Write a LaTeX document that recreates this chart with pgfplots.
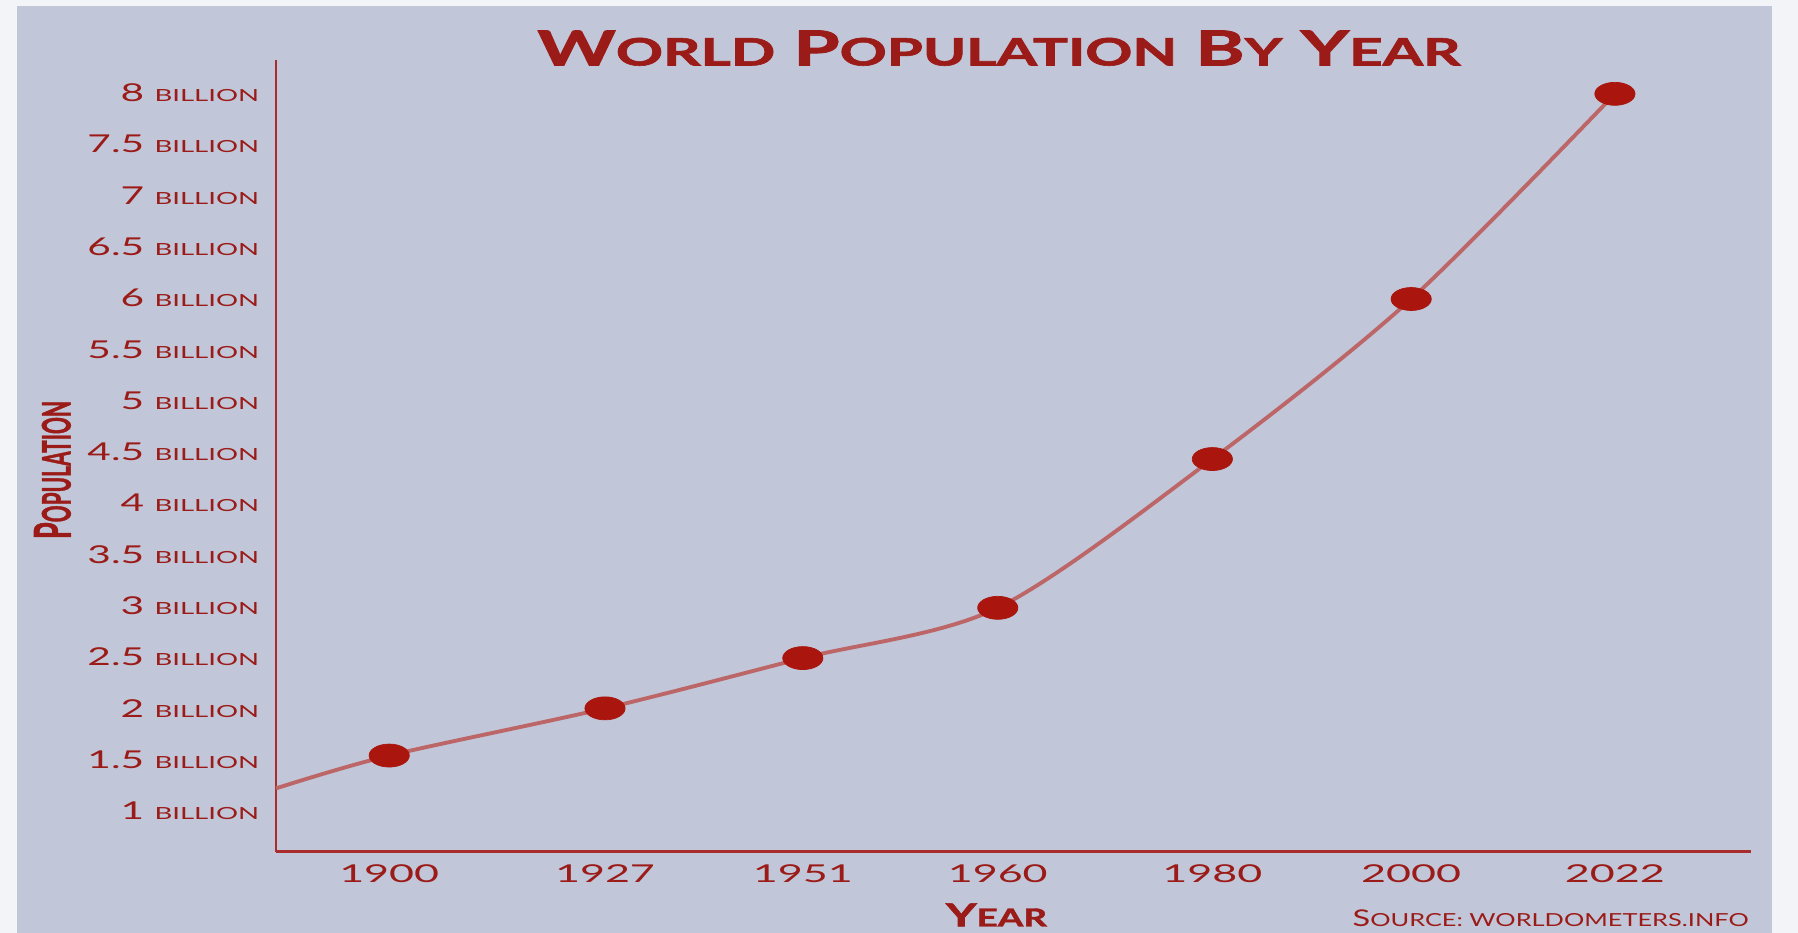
\documentclass[border=0pt]{standalone}
\usepackage{fontspec}
\setmainfont{Lato}
\newfontfamily\heavyfont{Lato}[BoldFeatures={FakeBold=1.6}]
\usepackage{graphicx}
\usepackage{pgfplots}
\pgfplotsset{compat=1.18}

\definecolor{outerbg}{RGB}{242,244,247}
\definecolor{panel}{RGB}{193,199,216}
\definecolor{txtred}{RGB}{155,27,24}
\definecolor{axisred}{RGB}{170,45,45}
\definecolor{dotred}{RGB}{170,22,14}
\definecolor{linered}{RGB}{188,102,104}

% wide lettering
\newcommand\hs[1]{\scalebox{1.65}[1]{#1}}
\newcommand\bil[1]{\hs{\fontsize{14}{14}\selectfont #1 \fontsize{9.5}{9.5}\selectfont BILLION}}
\newcommand\yr[1]{\scalebox{1.75}[1]{\fontsize{14}{14}\selectfont #1}}
% small-caps style: capital + smaller capitals
\newcommand\scx[2]{{\fontsize{10}{10}\selectfont #1}{\fontsize{7.8}{8}\selectfont #2}}

% year positions along the horizontal axis
\pgfplotstableread{
pos   year  pop
0     1900  1.54
1.056 1927  2.00
2.024 1951  2.49
2.978 1960  2.98
4.028 1980  4.43
5.001 2000  5.99
5.998 2022  7.99
}\popdata

\begin{document}
\begin{tikzpicture}[x=1cm,y=1cm]
\fill[outerbg] (0,0) rectangle (35.96,18.66);
\fill[panel] (0.34,0) rectangle (35.44,18.54);

\begin{axis}[
  at={(5.52cm,1.62cm)}, anchor=south west,
  width=29.5cm, height=15.84cm, scale only axis,
  xmin=-0.554, xmax=6.664, ymin=0.6, ymax=8.32,
  axis lines*=left,
  axis line style={axisred, line width=1.7pt},
  major tick length=0pt, tick style={draw=none},
  xtick={0,1.056,2.024,2.978,4.028,5.001,5.998},
  xticklabels={\yr{1900},\yr{1927},\yr{1951},\yr{1960},\yr{1980},\yr{2000},\yr{2022}},
  ytick={1,1.5,2,2.5,3,3.5,4,4.5,5,5.5,6,6.5,7,7.5,8},
  yticklabels={\bil{1},\bil{1.5},\bil{2},\bil{2.5},\bil{3},\bil{3.5},\bil{4},\bil{4.5},\bil{5},\bil{5.5},\bil{6},\bil{6.5},\bil{7},\bil{7.5},\bil{8}},
  ticklabel style={text=txtred, inner sep=0pt},
  yticklabel style={anchor=east, xshift=-3.3mm},
  xticklabel style={anchor=north, yshift=-2.4mm},
  clip=false,
]
% population curve (billions), entering from the left edge
\addplot[linered, line width=2.2pt, smooth, tension=0.5] coordinates {
  (-0.554,1.22) (0,1.54) (1.056,2.00) (2.024,2.49) (2.978,2.98) (4.028,4.43) (5.001,5.99) (5.998,7.99)
};
\addplot[only marks, mark=*, mark size=2.3mm, mark options={draw=dotred, fill=dotred, xscale=1.75}]
  table[x=pos, y=pop] {\popdata};
\end{axis}

\node[anchor=base, inner sep=0pt, text=txtred] at (19.98,17.35)
  {\resizebox{18.46cm}{7mm}{\heavyfont\bfseries\scx{W}{ORLD} \scx{P}{OPULATION} \scx{B}{Y} \scx{Y}{EAR}}};
\node[anchor=base, inner sep=0pt, text=txtred] at (19.93,0.13)
  {\resizebox{2.02cm}{4.6mm}{\heavyfont\bfseries\scx{Y}{EAR}}};
\node[anchor=base east, inner sep=0pt, text=txtred] at (34.98,0.13)
  {\resizebox{7.92cm}{3.34mm}{\scx{S}{OURCE: WORLDOMETERS.INFO}}};
\node[rotate=90, inner sep=0pt, text=txtred] at (1.05,9.26)
  {\resizebox{2.76cm}{7.3mm}{\heavyfont\bfseries\scx{P}{OPULATION}}};

\pgfresetboundingbox
\useasboundingbox (0,0) rectangle (35.96,18.66);
\end{tikzpicture}
\end{document}
